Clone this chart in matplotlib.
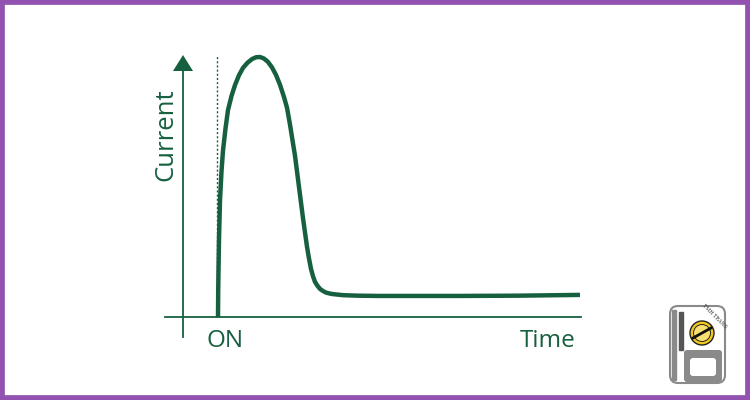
import matplotlib
matplotlib.use("Agg")
import matplotlib.pyplot as plt
from matplotlib.patches import Rectangle, Circle, FancyBboxPatch, Polygon

# inrush current curve, time from switch-on (arbitrary units), current 0..100
time = [0, 0.02, 0.05, 0.1, 0.2, 0.35, 0.5, 0.75, 1.0, 1.35, 1.7, 2.1, 2.5,
        2.95, 3.4, 3.8, 4.2, 4.6, 5.0, 5.4, 5.8, 6.2, 6.6, 6.9, 7.2, 7.45,
        7.7, 7.9, 8.1, 8.3, 8.5, 8.7, 8.9, 9.1, 9.3, 9.5, 9.7, 9.95, 10.2,
        10.5, 10.8, 11.2, 11.5, 12.0, 12.5, 13.2, 14.0, 16.0, 18.0, 24.0,
        30.0, 36.2]
current = [0, 10, 18, 30, 45, 56, 64, 72.5, 79.6, 85, 89.2, 93, 95.8,
           97.8, 99.2, 99.9, 100, 99.4, 98.1, 96, 93.1, 89.3, 84.6, 80.5, 74, 68,
           62, 56, 50, 44, 38, 32.5, 27, 22.5, 18.5, 15.7, 13.5, 12, 10.8,
           10, 9.4, 9, 8.8, 8.6, 8.4, 8.3, 8.2, 8.1, 8.1, 8.1,
           8.2, 8.5]

x_labels = ["ON", "Time"]
y_label = "Current"

green = "#17603f"
purple = "#9152b0"

fig = plt.figure(figsize=(7.5, 4), dpi=100)
ax = fig.add_axes([0, 0, 1, 1])
# 10 px per time unit, 2.6 px per current unit; origin of curve at px (218, 317)
ax.set_xlim(-21.8, 53.2)
ax.set_ylim(-83 / 2.6, 317 / 2.6)
ax.axis("off")

def px(x, y):
    return (x - 218) / 10, (317 - y) / 2.6

# axes
ax.plot(*zip(px(165, 317), px(581, 317)), color=green, lw=1.3)
ax.plot(*zip(px(183, 337), px(183, 68)), color=green, lw=1.3)
ax.add_patch(Polygon([px(173, 71), px(193, 71), px(183, 55)], closed=True,
                     color=green, lw=0))
# switch-on marker
ax.plot(*zip(px(217, 317), px(217, 55)), color=green, lw=1.0, ls=(0, (1.5, 1.5)))

ax.plot(time, current, color=green, lw=3.2, solid_capstyle="butt",
        solid_joinstyle="round")

ax.text(*px(225, 341), x_labels[0], fontsize=17.5, family="Open Sans",
        color=green, ha="center", va="center")
ax.text(*px(576, 341), x_labels[1], fontsize=17.5, family="Open Sans",
        color=green, ha="right", va="center")
ax.text(*px(166, 135), y_label, fontsize=18.5, family="Open Sans",
        color=green, ha="center", va="center", rotation=90)

# logo, drawn in figure pixels
lax = fig.add_axes([0, 0, 1, 1])
lax.set_xlim(0, 750)
lax.set_ylim(400, 0)
lax.axis("off")
gray = "#8a8a8a"
lax.add_patch(FancyBboxPatch((670, 306), 55, 77, boxstyle="round,pad=0,rounding_size=8",
                             fc="white", ec=gray, lw=1.5))
lax.add_patch(Rectangle((672, 310), 4, 70, color=gray))
lax.add_patch(Rectangle((679, 312), 4, 38, color="#555555"))
lax.add_patch(FancyBboxPatch((684, 350), 38, 32, boxstyle="round,pad=0,rounding_size=3",
                             fc=gray, ec="none"))
lax.add_patch(FancyBboxPatch((690, 358), 26, 18, boxstyle="round,pad=0,rounding_size=3",
                             fc="white", ec="none"))
lax.add_patch(Circle((702, 333), 12, fc="#f2c81a", ec="#222222", lw=1.0))
lax.add_patch(Circle((702, 333), 8.5, fc="#f7e070", ec="#222222", lw=0.7))
lax.plot([693, 711], [338, 328], color="#111111", lw=2.0)
lax.text(714, 316, "TMH TRANS", fontsize=3.5, rotation=-45, color="#333333",
         ha="center", va="center", family="DejaVu Serif")

# purple frame
fig.patches.append(Rectangle((0, 0), 1, 1, transform=fig.transFigure, fill=False,
                             ec=purple, lw=7, zorder=10))

fig.savefig("out.png", dpi=100)
